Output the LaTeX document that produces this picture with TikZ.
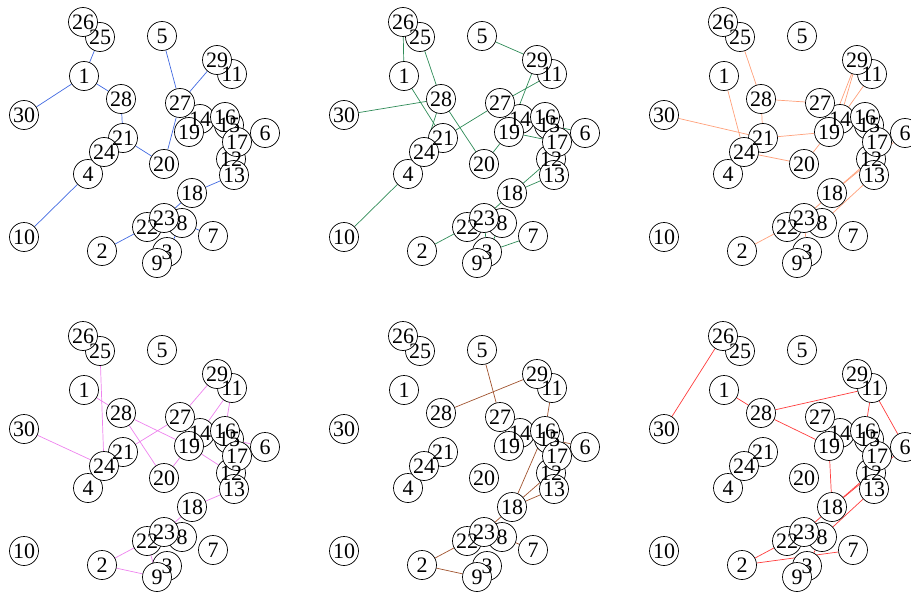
\documentclass[tikz,border=0pt]{standalone}
\usepackage{fontspec}
\setmainfont{Liberation Serif}
\usetikzlibrary{positioning}
\pgfdeclarelayer{edgelayer}
\pgfdeclarelayer{textlayer}
\pgfsetlayers{edgelayer,main,textlayer}

\definecolor{col1}{RGB}{65,105,225}
\definecolor{col2}{RGB}{46,139,87}
\definecolor{col3}{RGB}{255,160,122}
\definecolor{col4}{RGB}{238,130,238}
\definecolor{col5}{RGB}{160,82,45}
\definecolor{col6}{RGB}{255,60,60}

\tikzset{
  vertex/.style={circle,draw,fill=white,minimum size=29pt,inner sep=0pt,line width=0.7pt},
  vlabel/.style={inner sep=0pt,font=\fontsize{22}{26}\selectfont},
  edge/.style={line width=0.7pt}
}

% vertex positions, shared by every graph
\newcommand\vlayout{1/84/76, 2/102/251, 3/167/252, 4/88/174, 5/162/36,
  6/265/133, 7/213/236, 8/182/223, 9/157/263, 10/24/237,
  11/232/74, 12/231/159, 13/234/175, 14/200/119, 15/229/125,
  16/225/117, 17/237/142, 18/192/193, 19/189/132, 20/164/164,
  21/123/138, 22/147/227, 23/164/218, 24/104/152, 25/100/37,
  26/83/22, 27/180/103, 28/121/99, 29/217/60, 30/24/115}

% #1 graph name, #2/#3 shift, #4 edge colour, #5 edge list
\newcommand\graphpanel[5]{%
  \begin{scope}[shift={(#2,#3)}]
    \foreach \v/\x/\y in \vlayout {
      \node[vertex] (#1-\v) at (\x,\y) {};
      \begin{pgfonlayer}{textlayer}
        \node[vlabel] (#1-\v-txt) at (#1-\v) {\v};
      \end{pgfonlayer}
    }
    \begin{pgfonlayer}{edgelayer}
      \foreach \a/\b in {#5}
        \draw[edge,#4] (#1-\a) -- (#1-\b);
    \end{pgfonlayer}
  \end{scope}}

\begin{document}
\begin{tikzpicture}[x=1pt,y=-1pt]
\useasboundingbox (0,0) rectangle (911,594);
\begin{scope}
\clip (0,0) rectangle (911,594);

% top row
\graphpanel{ga}{0}{0}{col1}{1/25, 1/30, 1/28, 28/21, 21/20, 20/27, 27/5, 27/29,
  4/10, 13/18, 18/23, 22/2, 8/3, 8/7}
\graphpanel{gb}{320}{0}{col2}{26/1, 25/28, 30/28, 1/21, 28/24, 28/20, 21/27,
  20/19, 27/11, 29/19, 5/29, 19/17, 15/6, 12/18, 13/18, 18/23, 22/2, 23/3,
  8/3, 3/7, 4/10}
\graphpanel{gc}{640}{0}{col3}{25/28, 28/27, 28/21, 1/24, 30/21, 21/19, 24/20,
  20/19, 29/19, 29/14, 11/14, 6/18, 12/18, 8/13, 18/23, 2/22, 23/3}

% bottom row
\graphpanel{gd}{0}{314}{col4}{25/24, 1/28, 30/24, 28/19, 28/20, 21/27, 27/29,
  19/20, 11/14, 11/16, 19/12, 15/6, 13/18, 18/23, 22/2, 2/9, 22/9}
\graphpanel{ge}{320}{314}{col5}{5/27, 28/29, 11/16, 15/6, 18/16, 18/12, 18/13,
  18/23, 8/7, 22/2, 2/9}
\graphpanel{gf}{640}{314}{col6}{26/30, 1/28, 28/11, 28/19, 11/6, 11/16, 19/18,
  18/12, 18/6, 8/13, 2/22, 2/7, 23/18, 8/3}
\end{scope}
\end{tikzpicture}
\end{document}
